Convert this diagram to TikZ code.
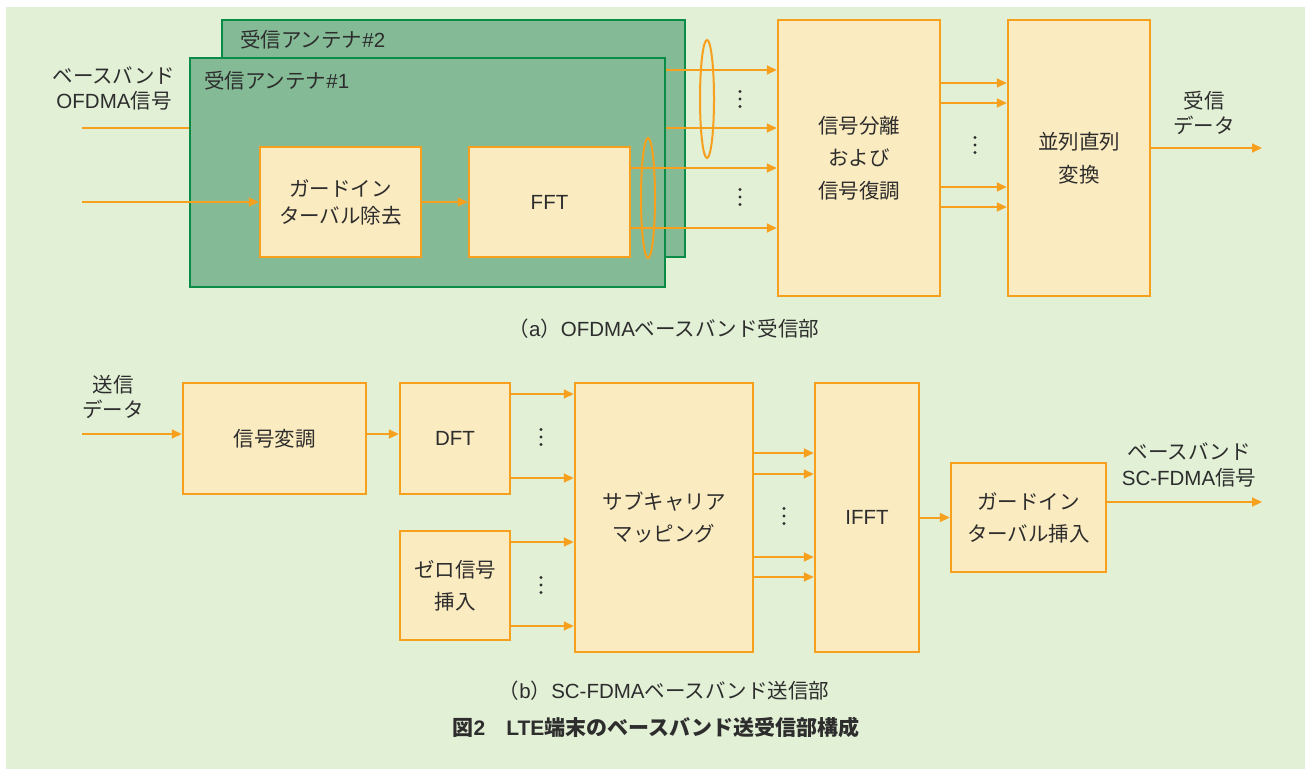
\documentclass[tikz,border=0pt]{standalone}
\usepackage{fontspec}
\setmainfont{Noto Sans CJK JP}
\newfontfamily\lat{Liberation Sans}
\usetikzlibrary{arrows.meta}
\definecolor{bggreen}{RGB}{226,240,214}
\definecolor{antfill}{RGB}{132,186,150}
\definecolor{antline}{RGB}{10,140,70}
\definecolor{org}{RGB}{247,160,30}
\definecolor{boxfill}{RGB}{251,235,192}
\definecolor{txt}{RGB}{45,45,45}
\newcommand{\la}[1]{{\lat #1}}
\tikzset{
  antbox/.style={draw=antline, fill=antfill, line width=2.5pt, inner sep=0pt},
  blockbox/.style={draw=org, fill=boxfill, line width=2.5pt, align=center, text=txt,
    font=\fontsize{20.5}{31}\selectfont, inner sep=0pt},
  arr/.style={draw=org, line width=2pt, -{Triangle[length=10pt,width=9pt]}},
  plainline/.style={draw=org, line width=2pt},
  lbl/.style={text=txt, align=center, font=\fontsize{20.5}{26}\selectfont, inner sep=0pt},
  loop/.style={draw=org, line width=2pt},
  vdot/.style={fill=txt, draw=none},
}
\begin{document}
\begin{tikzpicture}[x=1pt,y=-1pt]
\useasboundingbox (0,0) rectangle (1305,769);
\fill[bggreen] (6,7) rectangle (1305,769);

% ---------- (a) receiver ----------
\node[antbox, minimum width=463pt, minimum height=237pt] (ant2) at (453.5,138.5) {};
\node[antbox, minimum width=475pt, minimum height=229pt] (ant1) at (427.5,172.5) {};
\node[lbl, anchor=west] (ant2t) at (240,40) {受信アンテナ\la{\#2}};
\node[lbl, anchor=west] (ant1t) at (204,81) {受信アンテナ\la{\#1}};

\node[blockbox, minimum width=161pt, minimum height=110pt, font=\fontsize{20.5}{27}\selectfont] (gi) at (340.5,202) {ガードイン\\ターバル除去};
\node[blockbox, minimum width=161pt, minimum height=110pt] (fft) at (549.5,202) {\la{FFT}};
\node[blockbox, minimum width=162pt, minimum height=276pt, font=\fontsize{20.5}{32.5}\selectfont] (sep) at (859,158) {信号分離\\および\\信号復調};
\node[blockbox, minimum width=142pt, minimum height=276pt, font=\fontsize{20.5}{33}\selectfont] (ps) at (1079,158) {並列直列\\変換};

\node[lbl, font=\fontsize{20.5}{25}\selectfont] (inlbl) at (114,88) {ベースバンド\\\la{OFDMA}信号};
\node[lbl, font=\fontsize{20.5}{25}\selectfont] (outlbl) at (1204,113) {受信\\データ};

\coordinate (in1) at (82,128);
\coordinate (in2) at (82,202);
\coordinate (out1) at (1262,148);

\draw[plainline] (in1) -- (ant1.west |- in1);
\draw[arr] (in2) -- (gi.west);
\draw[arr] (gi.east) -- (fft.west);
\foreach \y in {70,128}{\draw[arr] (ant1.east |- 0,\y) -- (sep.west |- 0,\y);}
\foreach \y in {168,228}{\draw[arr] (fft.east |- 0,\y) -- (sep.west |- 0,\y);}
\foreach \y in {83,103,187,207}{\draw[arr] (sep.east |- 0,\y) -- (ps.west |- 0,\y);}
\draw[arr] (ps.east |- out1) -- (out1);

\draw[loop] (707,99) ellipse [x radius=7, y radius=59];
\draw[loop] (648,198) ellipse [x radius=7, y radius=60];

\foreach \x/\y in {740/99, 740/197, 975/145, 541/437, 541/585, 784/516}{
  \foreach \d in {-7.5,0,7.5}{\fill[vdot] (\x,\y+\d) circle [radius=1.7];}
}

\node[lbl] (capa) at (664,329) {（\la{a}）\la{OFDMA}ベースバンド受信部};

% ---------- (b) transmitter ----------
\node[blockbox, minimum width=183pt, minimum height=111pt] (mod) at (274.5,438.5) {信号変調};
\node[blockbox, minimum width=110pt, minimum height=111pt] (dft) at (455,438.5) {\la{DFT}};
\node[blockbox, minimum width=110pt, minimum height=109pt, font=\fontsize{20.5}{32}\selectfont] (zero) at (455,585.5) {ゼロ信号\\挿入};
\node[blockbox, minimum width=178pt, minimum height=269pt, font=\fontsize{20.5}{32}\selectfont] (map) at (664,517.5) {サブキャリア\\マッピング};
\node[blockbox, minimum width=104pt, minimum height=269pt] (ifft) at (867,517.5) {\la{IFFT}};
\node[blockbox, minimum width=155pt, minimum height=109pt, font=\fontsize{20.5}{32}\selectfont] (gins) at (1028.5,517.5) {ガードイン\\ターバル挿入};

\node[lbl, font=\fontsize{20.5}{25}\selectfont] (txlbl) at (113,397) {送信\\データ};
\node[lbl, font=\fontsize{20.5}{26}\selectfont] (sclbl) at (1189,465) {ベースバンド\\\la{SC-FDMA}信号};

\coordinate (tin) at (82,434);
\coordinate (tout) at (1262,502);

\draw[arr] (tin) -- (mod.west |- tin);
\draw[arr] (mod.east |- tin) -- (dft.west |- tin);
\foreach \y in {394,478}{\draw[arr] (dft.east |- 0,\y) -- (map.west |- 0,\y);}
\foreach \y in {542,626}{\draw[arr] (zero.east |- 0,\y) -- (map.west |- 0,\y);}
\foreach \y in {453,474,557,577}{\draw[arr] (map.east |- 0,\y) -- (ifft.west |- 0,\y);}
\draw[arr] (ifft.east) -- (gins.west);
\draw[arr] (gins.east |- tout) -- (tout);

\node[lbl] (capb) at (664,691) {（\la{b}）\la{SC-FDMA}ベースバンド送信部};
\node[lbl, font=\fontsize{21}{26}\selectfont\bfseries] (title) at (656,727) {図\la{\bfseries 2}　\la{\bfseries LTE}端末のベースバンド送受信部構成};
\end{tikzpicture}
\end{document}
